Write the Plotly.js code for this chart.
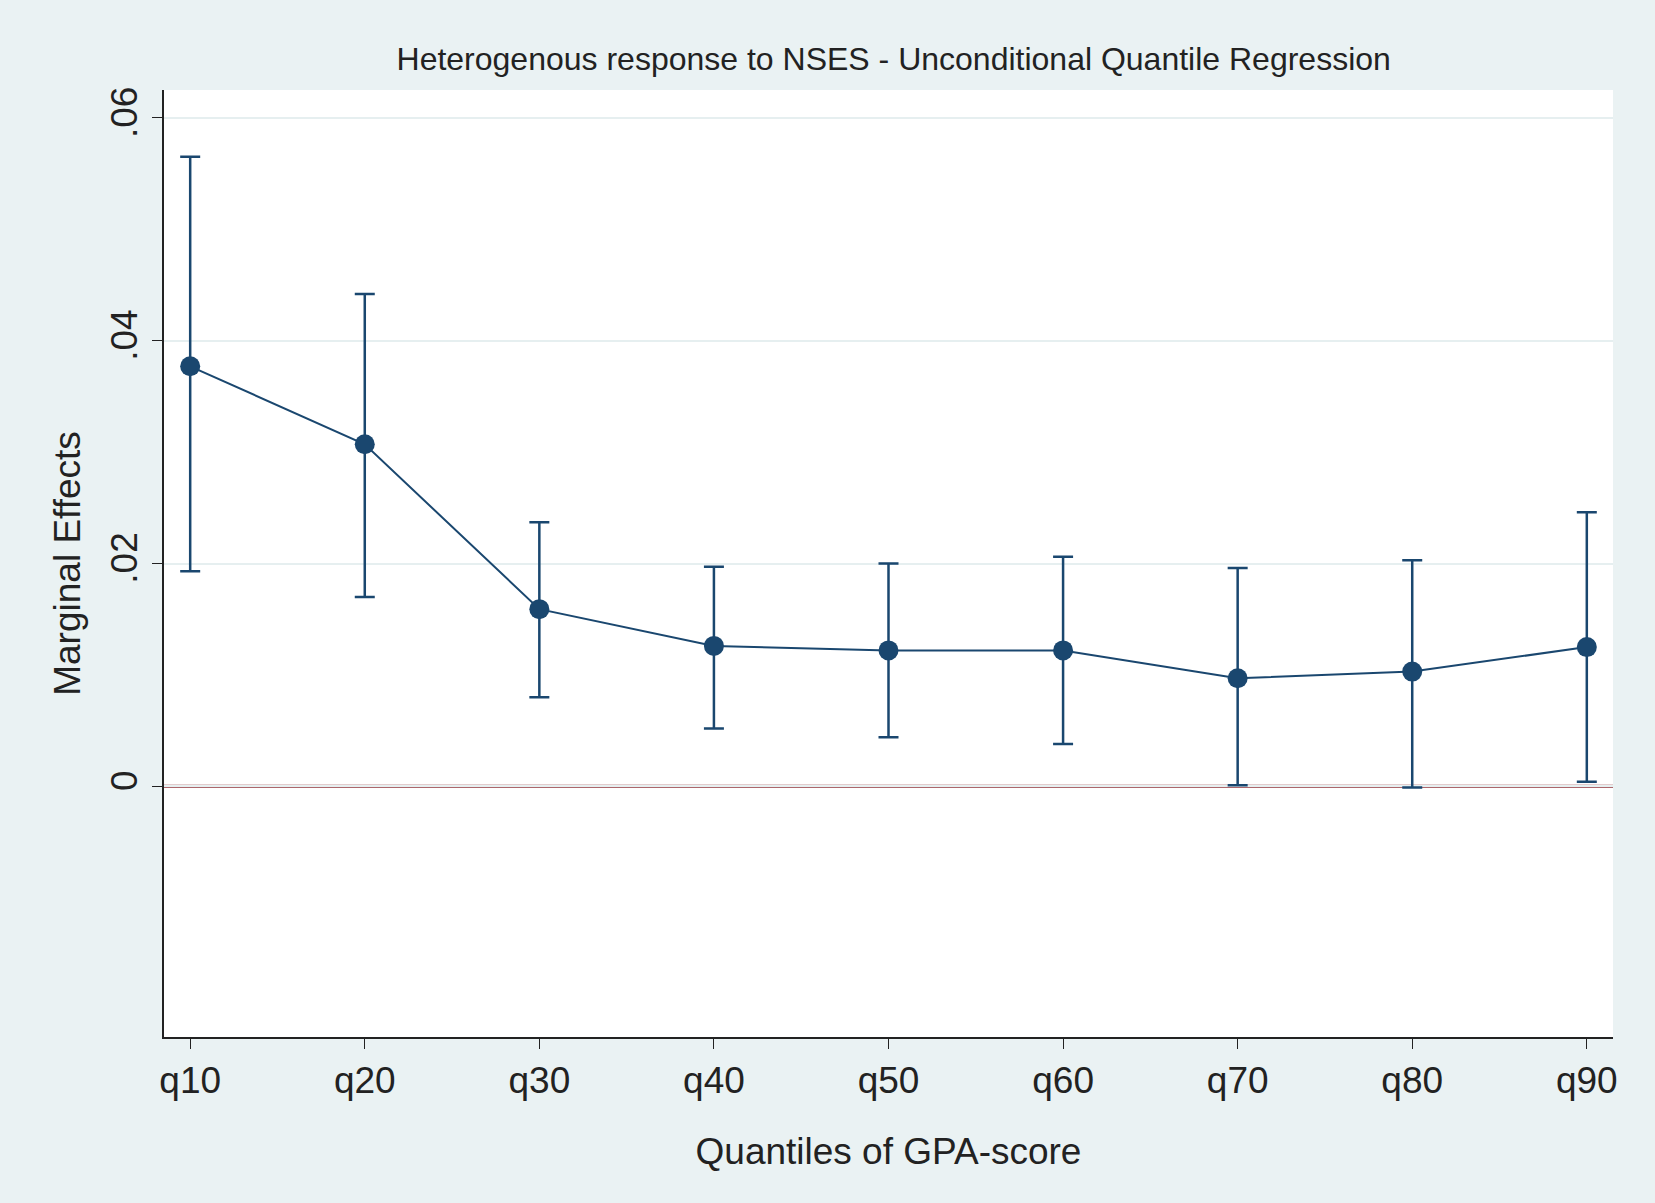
<!DOCTYPE html>
<html><head><meta charset="utf-8">
<script src="https://cdn.plot.ly/plotly-3.0.1.min.js"></script>
<style>body{margin:0;background:#eaf2f3}#chart{width:1655px;height:1203px}</style>
</head><body><div id="chart"></div>
<script>
const quantiles = ["q10","q20","q30","q40","q50","q60","q70","q80","q90"]
const effects = [0.0377, 0.0307, 0.0159, 0.0126, 0.0122, 0.0122, 0.0097, 0.0103, 0.0125]
const upper = [0.0565, 0.0442, 0.0237, 0.0197, 0.0200, 0.0206, 0.0196, 0.0203, 0.0246]
const lower = [0.0193, 0.0170, 0.0080, 0.0052, 0.0044, 0.0038, 0.0001, -0.0001, 0.0004]

const navy = "#1a476f"
const idx = quantiles.map((_, i) => i)

Plotly.newPlot("chart", [ {
  x: idx, y: effects, type: "scatter", mode: "lines+markers",
  line: { color: navy, width: 2 },
  marker: { color: navy, size: 20 },
  error_y: {
    type: "data", symmetric: false,
    array: upper.map((u, i) => u - effects[i]),
    arrayminus: effects.map((e, i) => e - lower[i]),
    color: navy, thickness: 2.5, width: 10
  },
  hoverinfo: "y"
} ], {
  paper_bgcolor: "#eaf2f3", plot_bgcolor: "#ffffff",
  width: 1655, height: 1203,
  margin: { l: 164, r: 42, t: 90, b: 166 },
  showlegend: false,
  font: { family: "Liberation Sans, Arial, sans-serif", color: "#222" },
  title: { text: "Heterogenous response to NSES - Unconditional Quantile Regression",
           font: { size: 32 }, x: 0.54, xanchor: "center", y: 0.951, yanchor: "middle" },
  xaxis: {
    range: [-0.15, 8.15], tickvals: idx, ticktext: quantiles,
    tickfont: { size: 37 }, ticks: "outside", ticklen: 10, tickcolor: "#222",
    showgrid: false, zeroline: false, showline: true, linecolor: "#222", linewidth: 2,
    title: { text: "Quantiles of GPA-score", font: { size: 37 }, standoff: 38 }
  },
  yaxis: {
    range: [-0.0225, 0.0625], tickvals: [0, 0.02, 0.04, 0.06], ticktext: ["0", ".02", ".04", ".06"],
    tickfont: { size: 37 }, tickangle: -90, ticks: "outside", ticklen: 10, tickcolor: "#222",
    showgrid: true, gridcolor: "#e6eff0", gridwidth: 2, zeroline: false,
    showline: true, linecolor: "#222", linewidth: 2,
    title: { text: "Marginal Effects", font: { size: 37 }, standoff: 12 }
  },
  shapes: [ { type: "line", xref: "paper", x0: 0, x1: 1, yref: "y", y0: 0, y1: 0,
              line: { color: "#90353b", width: 3 }, layer: "between" } ]
}, { displayModeBar: false })
</script></body></html>
